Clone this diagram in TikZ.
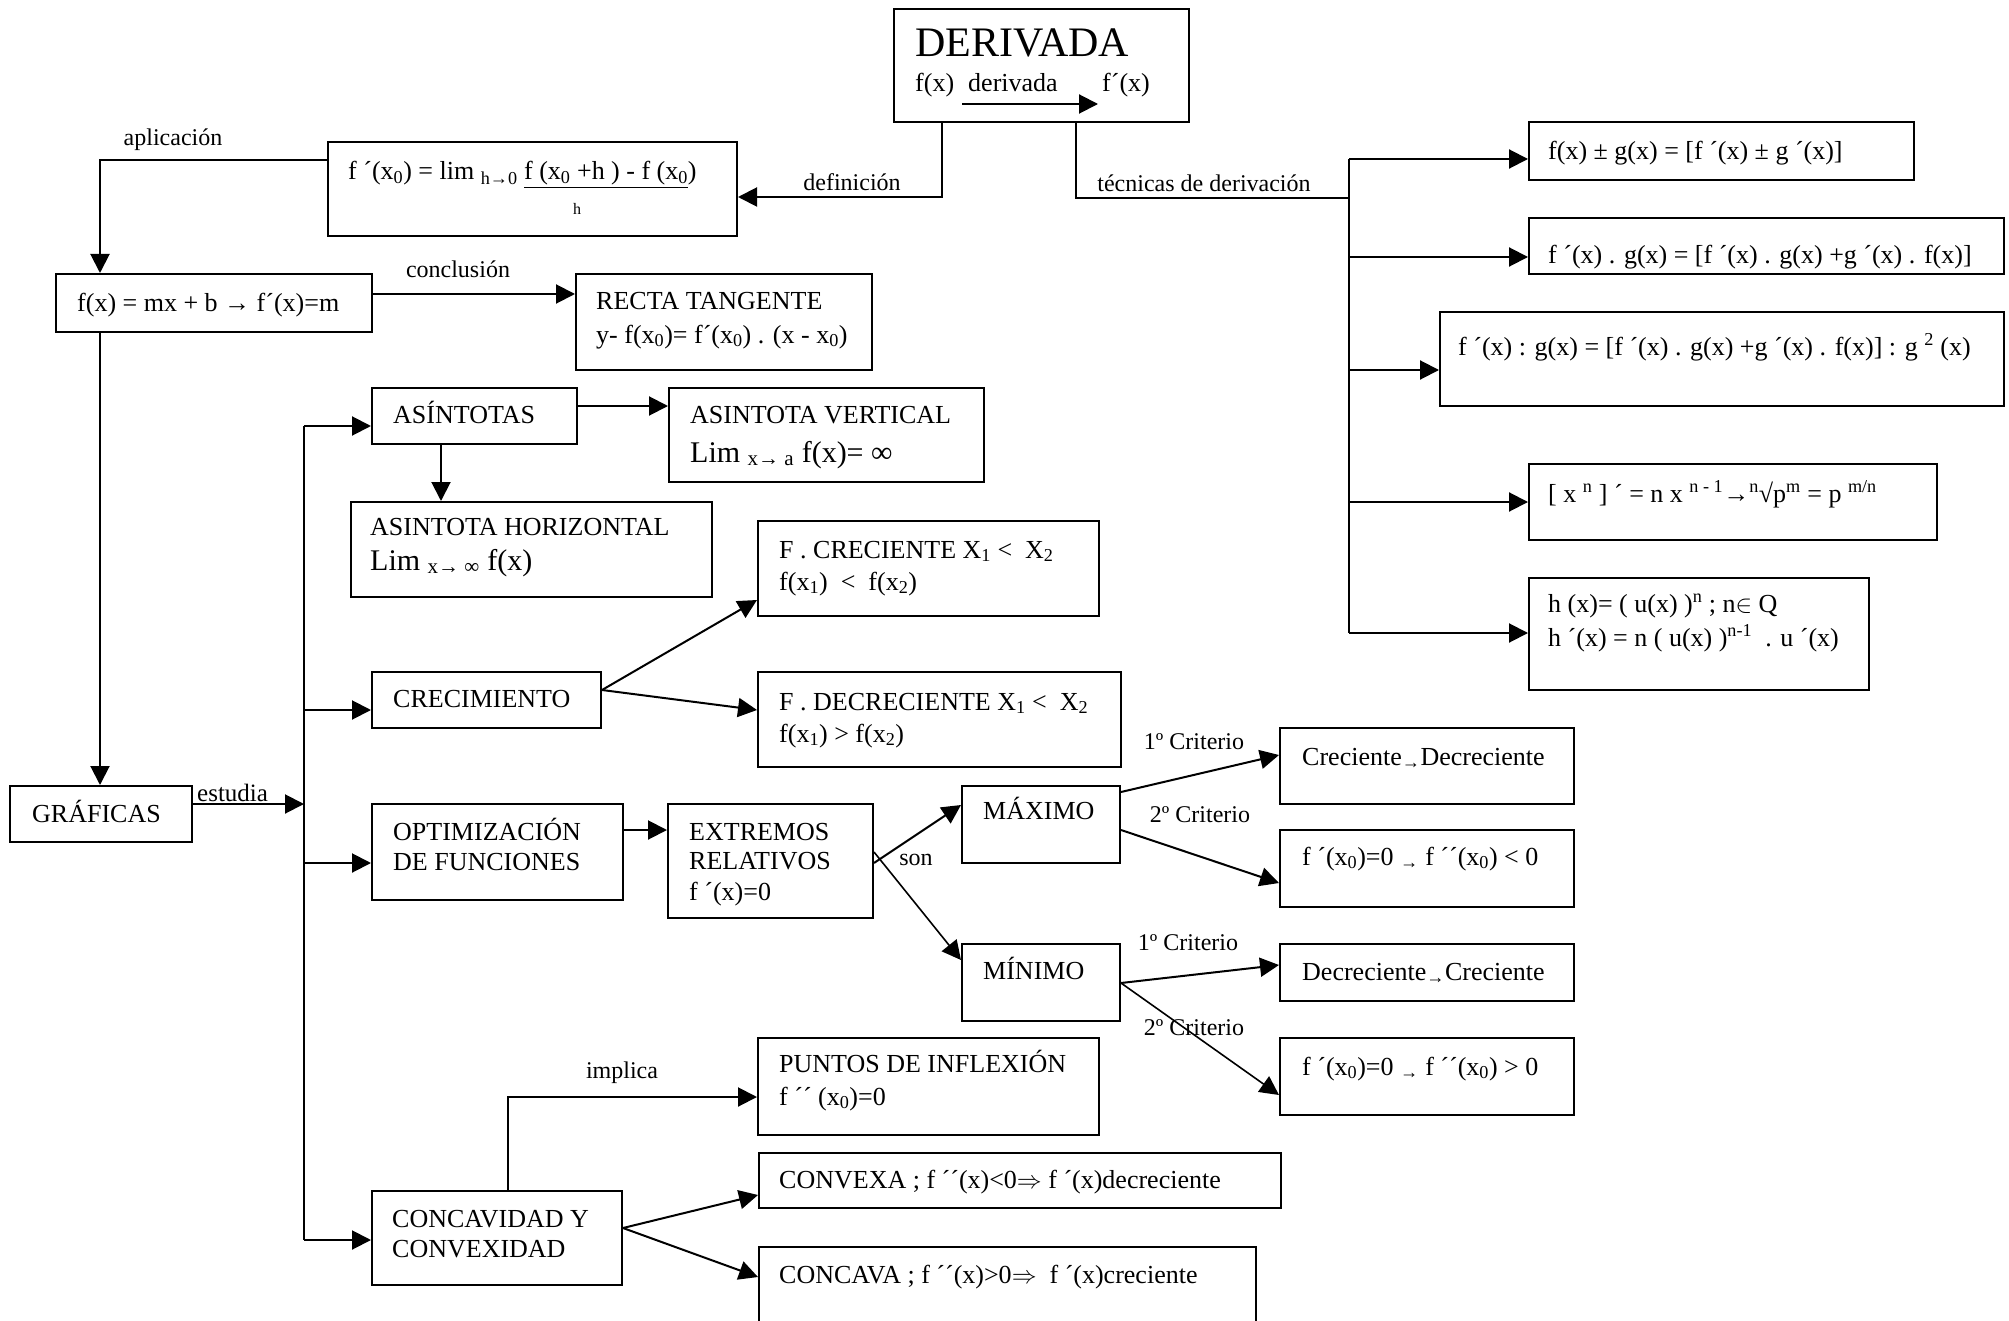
\documentclass[tikz,border=0pt]{standalone}
\usepackage{fontspec}
\setmainfont{Liberation Serif}
\usetikzlibrary{arrows.meta,fit}
\begin{document}
\begin{tikzpicture}[x=1pt,y=-1pt,
  box/.style={draw, line width=2pt, inner sep=0pt},
  txt/.style={inner sep=0pt, anchor=base west, font=\fontsize{26}{31}\selectfont},
  big/.style={inner sep=0pt, anchor=base west, font=\fontsize{30}{34}\selectfont},
  lab/.style={inner sep=0pt, font=\fontsize{24}{28}\selectfont},
  con/.style={line width=2pt},
  arr/.style={line width=2pt, -{Triangle[length=19pt,width=19pt]}},
]
\useasboundingbox (0,0) rectangle (2009,1321);

% ---------- boxes ----------
\node[box, fit={(894,9) (1189,122)}] (der) {};
\node[box, fit={(328,142) (737,236)}] (def) {};
\node[box, fit={(56,274) (372,332)}] (fxm) {};
\node[box, fit={(576,274) (872,370)}] (rec) {};
\node[box, fit={(10,786) (192,842)}] (graf) {};
\node[box, fit={(372,388) (577,444)}] (asin) {};
\node[box, fit={(669,388) (984,482)}] (av) {};
\node[box, fit={(351,502) (712,597)}] (ah) {};
\node[box, fit={(372,672) (601,728)}] (crec) {};
\node[box, fit={(758,521) (1099,616)}] (fcre) {};
\node[box, fit={(758,672) (1121,767)}] (fdec) {};
\node[box, fit={(372,804) (623,900)}] (opt) {};
\node[box, fit={(668,804) (873,918)}] (ext) {};
\node[box, fit={(962,786) (1120,863)}] (max) {};
\node[box, fit={(962,944) (1120,1021)}] (min) {};
\node[box, fit={(1280,728) (1574,804)}] (cd) {};
\node[box, fit={(1280,830) (1574,907)}] (ca) {};
\node[box, fit={(1280,944) (1574,1001)}] (dc) {};
\node[box, fit={(1280,1038) (1574,1115)}] (cb) {};
\node[box, fit={(758,1038) (1099,1135)}] (pun) {};
\node[box, fit={(372,1191) (622,1285)}] (cc) {};
\node[box, fit={(759,1153) (1281,1208)}] (cvx) {};
\node[box, fit={(759,1247) (1256,1335)}] (ccv) {};
\node[box, fit={(1529,122) (1914,180)}] (r1) {};
\node[box, fit={(1529,218) (2004,274)}] (r2) {};
\node[box, fit={(1440,312) (2004,406)}] (r3) {};
\node[box, fit={(1529,464) (1937,540)}] (r4) {};
\node[box, fit={(1529,578) (1869,690)}] (r5) {};

% ---------- texts ----------
\node[inner sep=0pt, anchor=base west, font=\fontsize{42}{48}\selectfont] (tder) at (915,57) {DERIVADA};
\node[txt] (tder1) at (915,92) {f(x)};
\node[txt] (tder2) at (968,92) {derivada};
\node[txt] (tder3) at (1102,92) {f´(x)};

\node[txt] (tdef) at (348,180) {f ´(x\textsubscript{0}) = lim \textsubscript{h→0} \underline{f (x\textsubscript{0} +h ) - f (x\textsubscript{0}})};
\node[inner sep=0pt, anchor=base west, font=\fontsize{16}{18}\selectfont] (tdefh) at (573,215) {h};

\node[txt] (tfxm) at (77,312) {f(x) = mx + b → f´(x)=m};
\node[txt] (trec1) at (596,310) {RECTA TANGENTE};
\node[txt] (trec2) at (596,343) {y- f(x\textsubscript{0})= f´(x\textsubscript{0}) . (x - x\textsubscript{0})};
\node[txt] (tgraf) at (32,822) {GRÁFICAS};
\node[txt] (tasin) at (393,423) {ASÍNTOTAS};
\node[txt] (tav1) at (690,423) {ASINTOTA VERTICAL};
\node[big] (tav2) at (690,462) {Lim \textsubscript{x→ a} f(x)= ∞};
\node[txt] (tah1) at (370,535) {ASINTOTA HORIZONTAL};
\node[big] (tah2) at (370,570) {Lim \textsubscript{x→ ∞} f(x)};
\node[txt] (tcrec) at (393,707) {CRECIMIENTO};
\node[txt] (tfcre1) at (779,558) {F . CRECIENTE X\textsubscript{1} <\ \ X\textsubscript{2}};
\node[txt] (tfcre2) at (779,590) {f(x\textsubscript{1})\ \ <\ \ f(x\textsubscript{2})};
\node[txt] (tfdec1) at (779,710) {F . DECRECIENTE X\textsubscript{1} <\ \ X\textsubscript{2}};
\node[txt] (tfdec2) at (779,742) {f(x\textsubscript{1}) > f(x\textsubscript{2})};
\node[txt] (topt1) at (393,840) {OPTIMIZACIÓN};
\node[txt] (topt2) at (393,870) {DE FUNCIONES};
\node[txt] (text1) at (689,840) {EXTREMOS};
\node[txt] (text2) at (689,869) {RELATIVOS};
\node[txt] (text3) at (689,900) {f ´(x)=0};
\node[txt] (tmax) at (983,819) {MÁXIMO};
\node[txt] (tmin) at (983,979) {MÍNIMO};
\node[txt] (tcd) at (1302,765) {Creciente\textsubscript{→}Decreciente};
\node[txt] (tca) at (1302,865) {f ´(x\textsubscript{0})=0 \textsubscript{→} f ´´(x\textsubscript{0}) < 0};
\node[txt] (tdc) at (1302,980) {Decreciente\textsubscript{→}Creciente};
\node[txt] (tcb) at (1302,1075) {f ´(x\textsubscript{0})=0 \textsubscript{→} f ´´(x\textsubscript{0}) > 0};
\node[txt] (tpun1) at (779,1072) {PUNTOS DE INFLEXIÓN};
\node[txt] (tpun2) at (779,1105) {f ´´ (x\textsubscript{0})=0};
\node[txt] (tcc1) at (392,1227) {CONCAVIDAD Y};
\node[txt] (tcc2) at (392,1257) {CONVEXIDAD};
\node[txt] (tcvx) at (779,1188) {CONVEXA ; f ´´(x)<0$\Rightarrow$ f ´(x)decreciente};
\node[txt] (tccv) at (779,1283) {CONCAVA ; f ´´(x)>0$\Rightarrow$\ \ f ´(x)creciente};
\node[txt] (tr1) at (1548,160) {f(x) ± g(x) = [f ´(x) ± g ´(x)]};
\node[txt] (tr2) at (1548,264) {f ´(x) . g(x) = [f ´(x) . g(x) +g ´(x) . f(x)]};
\node[txt] (tr3) at (1458,355) {f ´(x) : g(x) = [f ´(x) . g(x) +g ´(x) . f(x)] : g \textsuperscript{2} (x)};
\node[txt] (tr4) at (1548,502) {[ x \textsuperscript{n} ] ´ = n x \textsuperscript{n - 1}→\textsuperscript{n}√p\textsuperscript{m} = p \textsuperscript{m/n}};
\node[txt] (tr5a) at (1548,612) {h (x)= ( u(x) )\textsuperscript{n} ; n$\in$ Q};
\node[txt] (tr5b) at (1548,646) {h ´(x) = n ( u(x) )\textsuperscript{n-1}\ \ . u ´(x)};

% ---------- labels ----------
\node[lab] (laplic) at (173,140) {aplicación};
\node[lab] (ldef) at (852,182) {definición};
\node[lab] (lconc) at (458,269) {conclusión};
\node[lab] (ltec) at (1204,183) {técnicas de derivación};
\node[lab, anchor=base west, font=\fontsize{25}{28}\selectfont] (lest) at (197,801) {estudia};
\node[lab] (lson) at (916,860) {son};
\node[lab] (lc1a) at (1194,742) {1º Criterio};
\node[lab] (lc2a) at (1200,815) {2º Criterio};
\node[lab] (lc1b) at (1188,943) {1º Criterio};
\node[lab] (lc2b) at (1194,1028) {2º Criterio};
\node[lab] (limp) at (622,1073) {implica};

% ---------- connectors ----------
\coordinate (da) at (962,104);
\coordinate (db) at (1098,104);
\draw[arr] (da) -- (db);

\coordinate (dl) at (942,197);
\draw[arr] (der.south -| dl) -- (dl) -- (def.east |- dl);

\coordinate (tk) at (1349,198);
\coordinate (tr) at (1076,198);
\draw[con] (der.south -| tr) -- (tr) -- (tk);
\coordinate (Rt) at (1349,159);
\coordinate (Rb) at (1349,633);
\draw[con] (Rt) -- (Rb);
\coordinate (R2) at (1349,257);
\coordinate (R3) at (1349,370);
\coordinate (R4) at (1349,502);
\draw[arr] (Rt) -- (r1.west |- Rt);
\draw[arr] (R2) -- (r2.west |- R2);
\draw[arr] (R3) -- (r3.west |- R3);
\draw[arr] (R4) -- (r4.west |- R4);
\draw[arr] (Rb) -- (r5.west |- Rb);

\coordinate (ap) at (100,160);
\draw[arr] (def.west |- ap) -- (ap) -- (fxm.north -| ap);
\draw[arr] (fxm.east |- 0,294) -- (rec.west |- 0,294);
\draw[arr] (fxm.south -| ap) -- (graf.north -| ap);

\coordinate (Lt) at (304,426);
\coordinate (Lb) at (304,1240);
\coordinate (Le) at (304,804);
\coordinate (L2) at (304,710);
\coordinate (L3) at (304,863);
\draw[con] (Lt) -- (Lb);
\draw[arr] (graf.east |- Le) -- (Le);
\draw[arr] (Lt) -- (asin.west |- Lt);
\draw[arr] (L2) -- (crec.west |- L2);
\draw[arr] (L3) -- (opt.west |- L3);
\draw[arr] (Lb) -- (cc.west |- Lb);

\draw[arr] (asin.east |- 0,406) -- (av.west |- 0,406);
\draw[arr] (asin.south -| 441,0) -- (ah.north -| 441,0);
\draw[arr] (crec.east |- 0,690) -- (fcre.west |- 0,600);
\draw[arr] (crec.east |- 0,690) -- (fdec.west |- 0,710);
\draw[arr] (opt.east |- 0,830) -- (ext.west |- 0,830);
\draw[arr] (ext.east |- 0,863) -- (max.west |- 0,805);
\draw[arr, line width=1.6pt] (ext.east |- 0,852) -- (min.west |- 0,960);
\draw[arr] (max.east |- 0,792) -- (cd.west |- 0,755);
\draw[arr] (max.east |- 0,830) -- (ca.west |- 0,883);
\draw[arr] (min.east |- 0,983) -- (dc.west |- 0,965);
\draw[arr, line width=1.6pt] (min.east |- 0,983) -- (cb.west |- 0,1095);

\coordinate (im) at (508,1097);
\draw[arr] (cc.north -| im) -- (im) -- (pun.west |- im);
\draw[arr] (cc.east |- 0,1228) -- (cvx.west |- 0,1195);
\draw[arr] (cc.east |- 0,1228) -- (ccv.west |- 0,1277);
\end{tikzpicture}
\end{document}
